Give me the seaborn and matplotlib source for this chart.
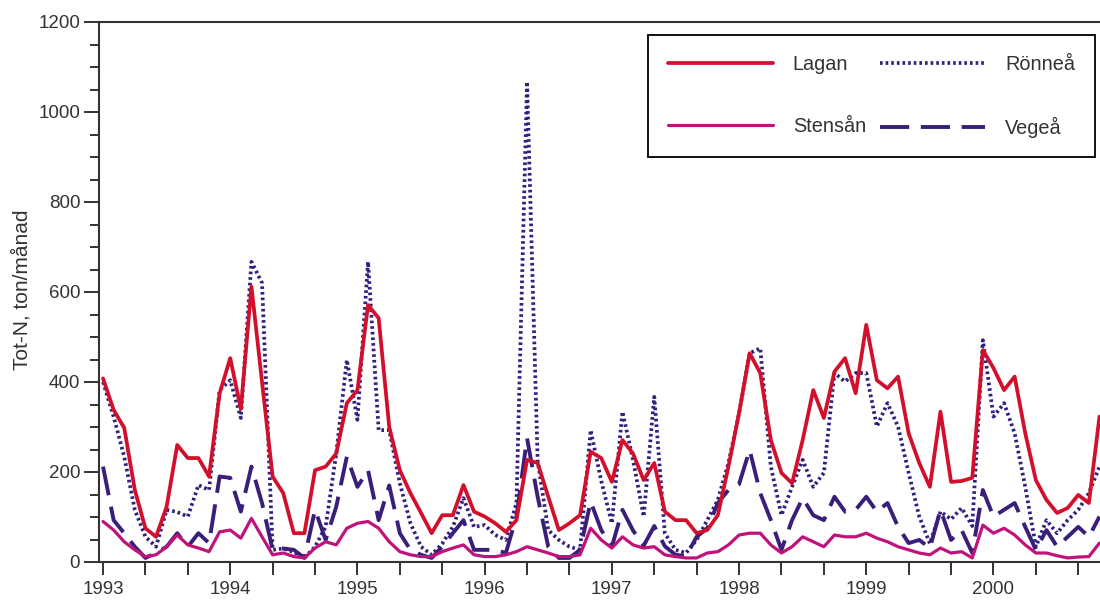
import numpy as np
import pandas as pd
import matplotlib
matplotlib.use("Agg")
import matplotlib.pyplot as plt
import seaborn as sns

# Monthly Tot-N transport (ton/månad), Jan 1993 onwards
lagan = [408, 338, 298, 160, 75, 56, 123, 260, 231, 231, 190, 375,
         453, 340, 612, 400, 190, 153, 64, 64, 204, 212, 241, 353,
         382, 571, 542, 300, 204, 153, 109, 64, 104, 104, 171, 112,
         101, 86, 67, 93, 227, 220, 145, 71, 86, 104, 245, 231,
         178, 271, 241, 182, 220, 112, 93, 93, 64, 71, 104, 212,
         331, 464, 420, 271, 198, 175, 271, 382, 320, 423, 453, 375,
         527, 404, 386, 412, 286, 220, 167, 334, 178, 180, 187, 471,
         431, 382, 412, 286, 182, 138, 109, 120, 149, 131, 323]
ronnea = [400, 323, 234, 116, 56, 34, 116, 111, 101, 171, 160, 382,
          404, 320, 667, 620, 27, 30, 22, 9, 34, 78, 241, 449,
          316, 667, 293, 293, 175, 86, 34, 16, 41, 78, 142, 78,
          82, 60, 49, 131, 1067, 225, 71, 49, 34, 27, 293, 180,
          86, 334, 227, 101, 367, 64, 27, 20, 49, 93, 138, 220,
          330, 464, 475, 212, 104, 167, 227, 167, 198, 420, 401, 420,
          420, 301, 353, 301, 198, 101, 41, 112, 95, 120, 80, 493,
          323, 353, 286, 167, 34, 93, 64, 93, 116, 153, 212]
vegea = [212, 93, 64, 34, 9, 20, 34, 64, 34, 64, 42, 190,
         187, 112, 212, 131, 27, 30, 27, 9, 116, 49, 123, 234,
         167, 204, 93, 170, 64, 27, 16, 9, 34, 64, 93, 27,
         27, 27, 20, 101, 275, 145, 34, 9, 9, 27, 134, 71,
         34, 116, 70, 36, 80, 35, 16, 13, 56, 75, 131, 160,
         173, 249, 153, 93, 27, 93, 142, 104, 93, 145, 112, 116,
         145, 112, 131, 78, 42, 49, 31, 116, 49, 71, 20, 160,
         101, 116, 131, 78, 27, 71, 34, 56, 78, 56, 101]
stensan = [90, 71, 45, 27, 12, 16, 34, 60, 38, 31, 23, 67,
           71, 53, 97, 56, 16, 20, 12, 9, 31, 45, 38, 75,
           86, 90, 75, 45, 23, 16, 12, 12, 23, 31, 38, 16,
           12, 12, 16, 23, 34, 27, 20, 12, 12, 16, 75, 49,
           31, 56, 38, 31, 34, 16, 12, 9, 9, 20, 23, 38,
           60, 64, 64, 38, 20, 34, 56, 45, 34, 60, 56, 56,
           64, 53, 45, 34, 27, 20, 16, 31, 20, 23, 9, 82,
           64, 75, 60, 38, 20, 20, 14, 9, 11, 12, 42]

start_year = 1993
year_labels = ["1993", "1994", "1995", "1996", "1997", "1998", "1999", "2000"]

t = start_year + np.arange(len(lagan)) / 12.0
df = pd.DataFrame({"t": t, "Lagan": lagan, "Rönneå": ronnea,
                   "Vegeå": vegea, "Stensån": stensan})

sns.set_style("ticks")
plt.rcParams["font.family"] = ["Liberation Sans", "DejaVu Sans"]

fig = plt.figure(figsize=(11, 6.02), dpi=100)
ax = fig.add_axes([99/1100, 40/602, 1001/1100, 540/602])

c_lagan = "#d2102c"
c_sten = "#c0127a"
c_ron = "#33207e"
c_veg = "#3a1f7a"

sns.lineplot(data=df, x="t", y="Rönneå", ax=ax, color=c_ron, linewidth=2.7,
             linestyle=(0, (0.7, 0.8)), label="Rönneå")
sns.lineplot(data=df, x="t", y="Vegeå", ax=ax, color=c_veg, linewidth=2.8,
             linestyle=(0, (7.5, 3.0)), label="Vegeå")
sns.lineplot(data=df, x="t", y="Lagan", ax=ax, color=c_lagan, linewidth=2.7,
             label="Lagan")
sns.lineplot(data=df, x="t", y="Stensån", ax=ax, color=c_sten, linewidth=2.3,
             label="Stensån")

ax.set_xlim(start_year - 0.38/12, start_year + 94.05/12)
ax.set_ylim(0, 1200)

# x ticks every 4 months, labels at years
xt = start_year + np.arange(0, 8 * 12, 4) / 12.0
xl = []
for k in range(len(xt)):
    xl.append(year_labels[k // 3] if k % 3 == 0 else "")
ax.set_xticks(xt)
ax.set_xticklabels(xl)

ax.set_yticks(np.arange(0, 1201, 200))
ax.set_yticks(np.arange(0, 1201, 50), minor=True)

spine_c = "#333333"
for s in ["left", "bottom", "top"]:
    ax.spines[s].set_visible(True)
    ax.spines[s].set_color(spine_c)
    ax.spines[s].set_linewidth(1.5)
ax.spines["right"].set_visible(False)

ax.tick_params(axis="x", which="major", direction="out", length=9.5, width=1.4,
               color=spine_c, labelsize=13.5, labelcolor="#333333", pad=4)
ax.tick_params(axis="y", which="major", direction="out", length=10.5, width=1.4,
               color=spine_c, labelsize=13.5, labelcolor="#333333", pad=3)
ax.tick_params(axis="y", which="minor", direction="out", length=6.5, width=1.4,
               color=spine_c)
ax.tick_params(top=False, right=False)

ax.set_xlabel("")
ax.set_ylabel("Tot-N, ton/månad", fontsize=15, color="#333333")
ax.yaxis.set_label_coords(-0.067, 0.505)

handles = {l.get_label(): l for l in ax.get_lines()}
order = ["Lagan", "Stensån", "Rönneå", "Vegeå"]
leg = ax.legend([handles[k] for k in order], order, ncol=2,
                loc="upper right", bbox_to_anchor=(0.995, 0.976),
                fontsize=14.3, frameon=True, fancybox=False, shadow=False,
                handlelength=5.3, handletextpad=1.0, columnspacing=0.7,
                labelspacing=2.15, borderpad=1.0, borderaxespad=0.0)
leg.get_frame().set_edgecolor("#111111")
leg.get_frame().set_linewidth(1.4)
leg.get_frame().set_alpha(1.0)
for txt in leg.get_texts():
    txt.set_color("#333333")

fig.savefig("out.png", dpi=100)
